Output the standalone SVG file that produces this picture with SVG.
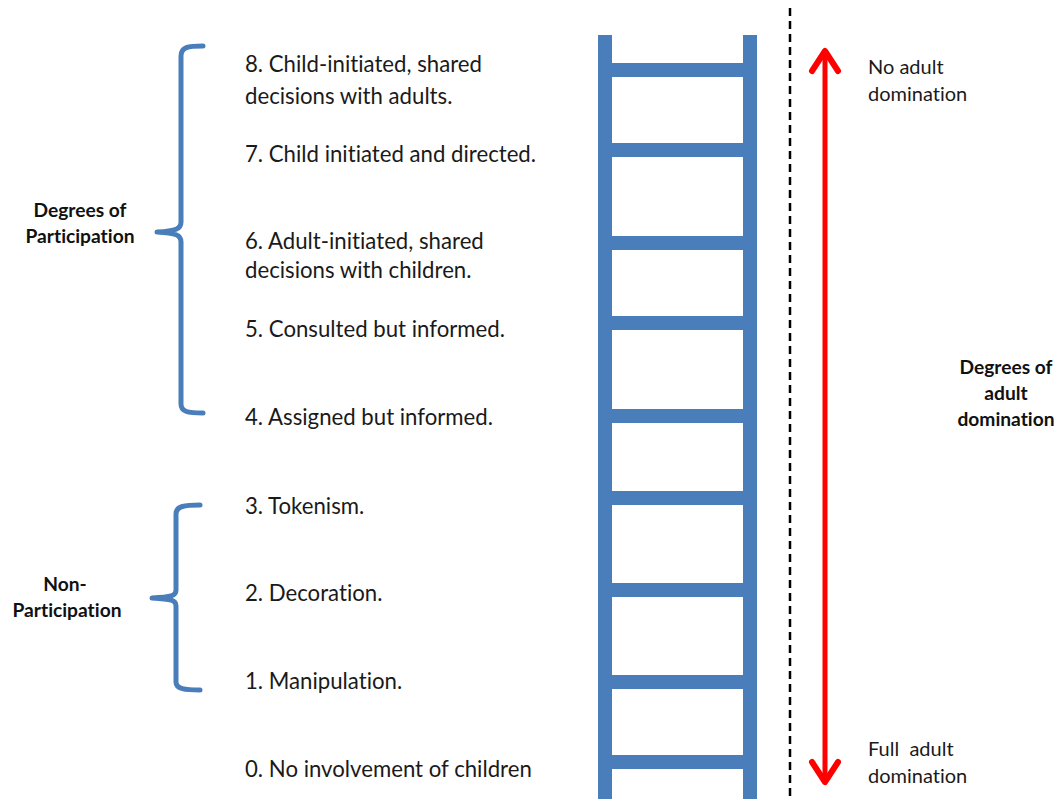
<svg xmlns="http://www.w3.org/2000/svg" width="1060" height="799" viewBox="0 0 1060 799">
<style>
text{font-variant-ligatures:none;font-feature-settings:"liga" 0,"dlig" 0}
.lbl{font-family:Lato,"Liberation Sans",sans-serif;font-size:22.2px;fill:#1a1a1a}
.side{font-family:Lato,"Liberation Sans",sans-serif;font-size:20px;fill:#1a1a1a}
.bold{font-family:Lato,"Liberation Sans",sans-serif;font-size:19.2px;font-weight:bold;fill:#111;text-anchor:middle}
.brace{fill:none;stroke:#4A7EBB;stroke-width:5;stroke-linecap:round;stroke-linejoin:round}
.rail{fill:#4A7EBB}
</style>
<defs>
<marker id="chev" markerUnits="userSpaceOnUse" orient="auto-start-reverse" refX="0" refY="0" markerWidth="40" markerHeight="40" viewBox="-30 -20 40 40" overflow="visible">
<path d="M-20,-13 L0,0 L-20,13" fill="none" stroke="#FF0000" stroke-width="6" stroke-linecap="round" stroke-linejoin="round"/>
</marker>
</defs>
<rect width="1060" height="799" fill="#fff"/>
<g id="ladder">
<rect class="rail" x="598" y="35" width="14" height="764"/>
<rect class="rail" x="743" y="35" width="14" height="764"/>
<rect class="rail" x="612" y="63" width="131" height="14"/>
<rect class="rail" x="612" y="143" width="131" height="14"/>
<rect class="rail" x="612" y="236" width="131" height="14"/>
<rect class="rail" x="612" y="316" width="131" height="14"/>
<rect class="rail" x="612" y="409" width="131" height="14"/>
<rect class="rail" x="612" y="491" width="131" height="14"/>
<rect class="rail" x="612" y="583" width="131" height="14"/>
<rect class="rail" x="612" y="675" width="131" height="14"/>
<rect class="rail" x="612" y="755" width="131" height="14"/>
</g>
<g id="steps">
<text class="lbl" x="245" y="72">8. Child-initiated, shared</text>
<text class="lbl" x="245" y="104">decisions with adults.</text>
<text class="lbl" x="245" y="162">7. Child initiated and directed.</text>
<text class="lbl" x="245" y="249">6. Adult-initiated, shared</text>
<text class="lbl" x="245" y="278">decisions with children.</text>
<text class="lbl" x="245" y="337">5. Consulted but informed.</text>
<text class="lbl" x="245" y="425">4. Assigned but informed.</text>
<text class="lbl" x="245" y="514">3. Tokenism.</text>
<text class="lbl" x="245" y="601">2. Decoration.</text>
<text class="lbl" x="245" y="689">1. Manipulation.</text>
<text class="lbl" x="245" y="777">0. No involvement of children</text>
</g>
<g id="participation">
<path class="brace" d="M203,46 C188,46 181,47 181,56 L181,222 C181,229 176,231 157,232 C176,233 181,235 181,242 L181,404 C181,412 188,413 203,413"/>
<text class="bold" x="80" y="217">Degrees of</text>
<text class="bold" x="80" y="243">Participation</text>
</g>
<g id="non-participation">
<path class="brace" d="M200,505 C185,505 176,506 176,514 L176,590 C176,596 171,597 152,598 C171,599 176,600 176,606 L176,682 C176,689 185,690 200,690"/>
<text class="bold" x="65" y="591">Non-</text>
<text class="bold" x="67" y="617">Participation</text>
</g>
<g id="connectors">
<line x1="790" y1="8" x2="790" y2="799" stroke="#000" stroke-width="2.5" stroke-dasharray="8 5"/>
<line x1="825" y1="51" x2="825" y2="782" stroke="#FF0000" stroke-width="5" marker-start="url(#chev)" marker-end="url(#chev)"/>
</g>
<g id="domination">
<text class="side" x="868" y="74">No adult</text>
<text class="side" x="868" y="101">domination</text>
<text class="side" x="868" y="756">Full&#160; adult</text>
<text class="side" x="868" y="783">domination</text>
<text class="bold" x="1006" y="374">Degrees of</text>
<text class="bold" x="1006" y="400">adult</text>
<text class="bold" x="1006" y="426">domination</text>
</g>
</svg>
